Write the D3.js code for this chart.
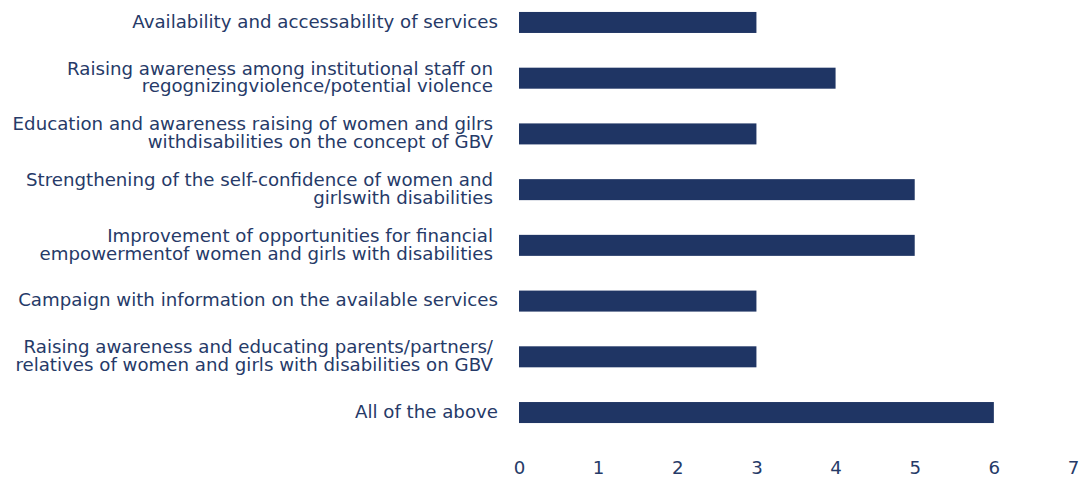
<!DOCTYPE html>
<html>
<head>
<meta charset="utf-8">
<script src="https://cdn.jsdelivr.net/npm/d3@7"></script>
<style>
  html, body { margin: 0; padding: 0; background: #ffffff; }
  svg { display: block; }
  text { font-family: "DejaVu Sans", sans-serif; fill: #263a68; }
</style>
</head>
<body>
<svg id="chart" width="1081" height="478"></svg>
<script>
// Measures supporting women and girls with disabilities (number of responses)
const categories = [
  ["Availability and accessability of services"],
  ["Raising awareness among institutional staff on", "regognizingviolence/potential violence"],
  ["Education and awareness raising of women and gilrs", "withdisabilities on the concept of GBV"],
  ["Strengthening of the self-confidence of women and", "girlswith disabilities"],
  ["Improvement of opportunities for financial", "empowermentof women and girls with disabilities"],
  ["Campaign with information on the available services"],
  ["Raising awareness and educating parents/partners/", "relatives of women and girls with disabilities on GBV"],
  ["All of the above"]
];
const values = [3, 4, 3, 5, 5, 3, 3, 6];
const tickValues = [0, 1, 2, 3, 4, 5, 6, 7];

const barColor = "#1f3564";
const textColor = "#263a68";
const svg = d3.select("#chart");

const x = d3.scaleLinear().domain([0, 7]).range([519, 1073]);
const y = d3.scaleBand()
  .domain(d3.range(categories.length))
  .range([-5.4, 440.4])
  .paddingInner(0.623)
  .paddingOuter(0.3115);

// bars
svg.append("g")
  .selectAll("rect")
  .data(values)
  .join("rect")
  .attr("x", x(0))
  .attr("y", (d, i) => y(i))
  .attr("width", d => x(d) - x(0))
  .attr("height", y.bandwidth())
  .attr("fill", barColor);

// category labels, right aligned; long ones run over two lines
const fontSize = 18.2;
const lineHeight = 17.8;
const lines = categories.flatMap((c, i) =>
  c.map((line, k) => ({ line, i, k, n: c.length })));

svg.append("g")
  .selectAll("text")
  .data(lines)
  .join("text")
  .attr("text-anchor", "end")
  .attr("font-size", fontSize)
  .attr("x", d => d.n > 1 ? 493 : 498)
  .attr("y", d => y(d.i) + y.bandwidth() / 2 + (d.k - (d.n - 1) / 2) * lineHeight)
  .attr("dy", "0.29em")
  .text(d => d.line);

// value axis along the bottom, labels only
const axis = d3.axisBottom(x).tickValues(tickValues).tickSize(0).tickPadding(0).tickFormat(d3.format("d"));
const gx = svg.append("g").attr("transform", "translate(0,461)").call(axis);
gx.select(".domain").remove();
gx.selectAll("text")
  .attr("font-size", fontSize)
  .attr("font-family", "DejaVu Sans, sans-serif")
  .attr("fill", textColor)
  .attr("dy", "0.71em");
</script>
</body>
</html>
